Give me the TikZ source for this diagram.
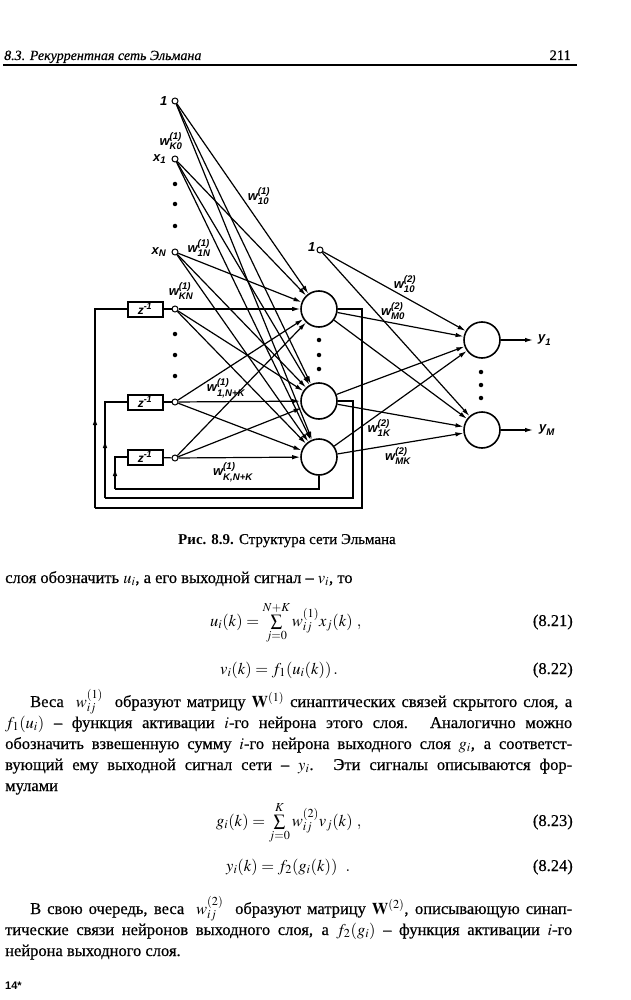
\documentclass[tikz,border=0pt]{standalone}
\usepackage{amsmath}
\usepackage{mathptmx}
\usepackage[no-math]{fontspec}
\setmainfont{Liberation Serif}[UprightFeatures={FakeBold=0.5},ItalicFeatures={FakeBold=0.4}]
\newfontfamily\labfont{Liberation Sans}
\usetikzlibrary{arrows.meta,positioning,decorations.markings}

\newcommand\wlab[2]{$\text{w}^{\text{(#1)}}_{\text{#2}}$}
\newcommand\slab[2]{$\text{#1}_{\text{#2}}$}

\tikzset{
  neuron/.style={circle,draw,line width=1.6pt,minimum size=36pt,inner sep=0pt},
  innode/.style={circle,draw,line width=1pt,minimum size=6pt,inner sep=0pt},
  delay/.style={draw,line width=2pt,minimum width=35pt,minimum height=15pt,inner sep=0pt,font=\labfont\bfseries\itshape\fontsize{12}{12}\selectfont},
  lab/.style={inner sep=0pt,font=\labfont\bfseries\itshape\fontsize{13}{13}\selectfont},
  syn/.style={line width=1.2pt,-{Latex[length=8pt,width=4.5pt]}},
  wire/.style={line width=1.2pt},
  bigdot/.style={circle,fill,inner sep=0pt,minimum size=4.5pt},
  uparrow/.style={postaction={decorate,decoration={markings,mark=at position #1 with {\arrow{Latex[length=8pt,width=4.5pt]}}}}},
  txt/.style={anchor=base west,inner sep=0pt,font=\fontsize{16.5}{21}\selectfont},
  eqn/.style={anchor=base west,inner sep=0pt,font=\fontsize{16.5}{21}\selectfont},
  eqno/.style={anchor=base east,inner sep=0pt,font=\fontsize{16.5}{21}\selectfont}
}

\begin{document}
\begin{tikzpicture}[x=1pt,y=-1pt]
\useasboundingbox (0,0) rectangle (631,1000);

% page head
\node[anchor=base west,inner sep=0pt,font=\itshape\fontsize{14}{14}\selectfont] (head) at (4,60) {8.3. Рекуррентная сеть Эльмана};
\node[anchor=base east,inner sep=0pt,font=\fontsize{14.5}{14}\selectfont] (pageno) at (571,60) {211};
\draw[line width=1.5pt] (3,65) -- (577,65);

% inputs
\node[innode] (i0) at (175,101) {};
\node[innode] (i1) at (175,159) {};
\node[innode] (iN) at (175,252) {};
\node[innode] (zK) at (175,309) {};
\node[innode] (z1) at (175,402) {};
\node[innode] (z2) at (175,458) {};
\node[lab,left=4pt of i0] {1};
\node[lab,left=5pt of i1] {\slab{x}{1}};
\node[lab,left=5pt of iN] {\slab{x}{N}};
\foreach \y in {184,204,226,334,355,376} \node[bigdot] at (175,\y) {};

% context units
\node[delay] (d1) at (145,309) {z\textsuperscript{-1}};
\node[delay] (d2) at (145,402) {z\textsuperscript{-1}};
\node[delay] (d3) at (145,457) {z\textsuperscript{-1}};
\draw[wire] (d1) -- (zK);
\draw[wire] (d2) -- (z1);
\draw[wire] (d3) -- (z2);

% hidden layer
\node[neuron] (h1) at (319,309) {};
\node[neuron] (h2) at (319,401) {};
\node[neuron] (h3) at (319,457) {};
\foreach \y in {340,355,369} \node[bigdot] at (319,\y) {};

% output layer
\node[innode] (b2) at (320,250) {};
\node[lab,left=1pt of b2,yshift=3pt] {1};
\node[neuron] (o1) at (482,340) {};
\node[neuron] (o2) at (482,430) {};
\foreach \y in {372,385,398} \node[bigdot] at (481,\y) {};
\coordinate (y1end) at (533,340);
\coordinate (yMend) at (533,430);
\draw[syn] (o1) -- (y1end);
\draw[syn] (o2) -- (yMend);
\node[lab,right=5pt of y1end] {\slab{y}{1}};
\node[lab,right=6pt of yMend] {\slab{y}{M}};

% synapses
\foreach \s in {i0,i1,iN,zK,z1,z2} \foreach \t in {h1,h2,h3} \draw[syn] (\s) -- (\t);
\foreach \s in {b2,h1,h2,h3} \foreach \t in {o1,o2} \draw[syn] (\s) -- (\t);

% feedback loops
\coordinate (c1r) at (362,508); \coordinate (c1l) at (95,508);
\coordinate (c2r) at (353,498); \coordinate (c2l) at (105,498);
\coordinate (c3l) at (115,489);
\draw[wire] (h1.east) -| (c1r) -- (c1l);
\draw[wire,uparrow=91pt] (c1l) |- (d1.west);
\draw[wire] (h2.east) -| (c2r) -- (c2l);
\draw[wire,uparrow=58pt] (c2l) |- (d2.west);
\draw[wire] (h3.south) |- (c3l);
\draw[wire,uparrow=21pt] (c3l) |- (d3.west);

% weight labels
\node[lab] (wK0) at (171,141) {\wlab{1}{K0}};
\node[lab] (w10) at (259,196) {\wlab{1}{10}};
\node[lab] (w1N) at (199,248) {\wlab{1}{1N}};
\node[lab] (wKN) at (181,291) {\wlab{1}{KN}};
\node[lab] (w1NK) at (226,388) {\wlab{1}{1,N+K}};
\node[lab] (wKNK) at (233,472) {\wlab{1}{K,N+K}};
\node[lab] (v10) at (405,284) {\wlab{2}{10}};
\node[lab] (vM0) at (393,311) {\wlab{2}{M0}};
\node[lab] (v1K) at (379,428) {\wlab{2}{1K}};
\node[lab] (vMK) at (398,456) {\wlab{2}{MK}};

% caption
\node[anchor=base,inner sep=0pt,font=\fontsize{15}{15}\selectfont] (cap) at (287,544) {\textbf{Рис. 8.9.} Структура сети Эльмана};

% text
\node[txt] (l1) at (5,583) {слоя обозначить $u_i$, а его выходной сигнал – $v_i$, то};
\node[eqn] (e1) at (210,626) {$u_i(k)=\sum\limits_{j=0}^{N+K} w_{ij}^{(1)}x_j(k)\ ,$};
\node[eqno] (n1) at (573,626) {(8.21)};
\node[eqn] (e2) at (220,674) {$v_i(k)=f_1(u_i(k))\,.$};
\node[eqno] (n2) at (573,674) {(8.22)};
\node[txt] (l2) at (5,707) {\makebox[567pt][s]{\hspace{25pt}Веса \ $w_{ij}^{(1)}$ \ образуют матрицу $\mathbf{W}^{(1)}$ синаптических связей скрытого слоя, а}};
\node[txt] (l3) at (5,728) {\makebox[567pt][s]{$f_1(u_i)$ – функция активации $i$-го нейрона этого слоя. Аналогично можно}};
\node[txt] (l4) at (5,749) {\makebox[567pt][s]{обозначить взвешенную сумму $i$-го нейрона выходного слоя $g_i$, а соответст-}};
\node[txt] (l5) at (5,770) {\makebox[567pt][s]{вующий ему выходной сигнал сети – $y_i$. Эти сигналы описываются фор-}};
\node[txt] (l6) at (5,791) {мулами};
\node[eqn] (e3) at (216,826) {$g_i(k)=\sum\limits_{j=0}^{K} w_{ij}^{(2)}v_j(k)\ ,$};
\node[eqno] (n3) at (573,826) {(8.23)};
\node[eqn] (e4) at (226,871) {$y_i(k)=f_2(g_i(k))\ \ .$};
\node[eqno] (n4) at (573,871) {(8.24)};
\node[txt] (l7) at (5,914) {\makebox[567pt][s]{\hspace{25pt}В свою очередь, веса \ $w_{ij}^{(2)}$ \ образуют матрицу $\mathbf{W}^{(2)}$, описывающую синап-}};
\node[txt] (l8) at (5,935) {\makebox[567pt][s]{тические связи нейронов выходного слоя, а $f_2(g_i)$ – функция активации $i$-го}};
\node[txt] (l9) at (5,956) {нейрона выходного слоя.};
\node[anchor=base west,inner sep=0pt,font=\labfont\bfseries\fontsize{11}{11}\selectfont] (sig) at (5,989) {14*};
\end{tikzpicture}
\end{document}
